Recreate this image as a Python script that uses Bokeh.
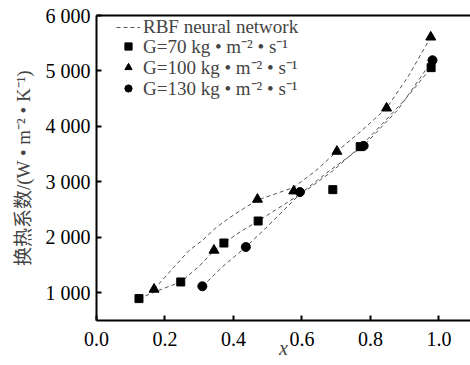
from bokeh.plotting import figure
from bokeh.models import Legend, LegendItem, FixedTicker, LinearAxis
from bokeh.embed import file_html
from bokeh.resources import INLINE

# ---- data ----
x70 = [0.124, 0.246, 0.372, 0.472, 0.690, 0.770, 0.977]
y70 = [895, 1195, 1897, 2294, 2860, 3635, 5060]
x100 = [0.168, 0.343, 0.470, 0.576, 0.702, 0.847, 0.976]
y100 = [1063, 1766, 2685, 2835, 3550, 4330, 5610]
x130 = [0.309, 0.436, 0.594, 0.780, 0.981]
y130 = [1117, 1825, 2816, 3650, 5193]

# RBF network curves
cx70 = [0.124, 0.18, 0.246, 0.30, 0.343, 0.372, 0.42, 0.472, 0.55, 0.62, 0.69, 0.77, 0.84, 0.91, 0.977]
cy70 = [895, 1040, 1195, 1480, 1760, 1897, 2100, 2294, 2600, 2880, 3200, 3635, 4080, 4550, 5060]
cx100 = [0.168, 0.22, 0.27, 0.31, 0.35, 0.39, 0.43, 0.47, 0.52, 0.576, 0.64, 0.702, 0.77, 0.847, 0.91, 0.976]
cy100 = [1063, 1420, 1760, 1950, 2180, 2360, 2520, 2670, 2780, 2900, 3200, 3550, 3900, 4330, 4900, 5610]
cx130 = [0.309, 0.37, 0.436, 0.50, 0.594, 0.68, 0.780, 0.88, 0.981]
cy130 = [1117, 1480, 1825, 2200, 2780, 3200, 3650, 4300, 5193]

x_ticks = [0.0, 0.2, 0.4, 0.6, 0.8, 1.0]
x_tick_labels = ["0.0", "0.2", "0.4", "0.6", "0.8", "1.0"]
y_ticks = [1000, 2000, 3000, 4000, 5000, 6000]
y_tick_labels = ["1 000", "2 000", "3 000", "4 000", "5 000", "6 000"]

legend_labels = ["RBF neural network",
                 "G=70 kg • m⁻² • s⁻¹",
                 "G=100 kg • m⁻² • s⁻¹",
                 "G=130 kg • m⁻² • s⁻¹"]

SERIF = "'Liberation Serif', 'Times New Roman', serif"
MIXED = "'Liberation Serif', 'Noto Sans CJK SC', serif"

p = figure(width=470, height=365, output_backend="svg", toolbar_location=None,
           x_range=(0, 1.092), y_range=(500, 6000),
           min_border_left=96, min_border_right=0, min_border_top=15, min_border_bottom=45)
p.grid.visible = False
p.outline_line_color = None
p.background_fill_color = "white"
p.border_fill_color = "white"

dash = "4 3"
lc = "#555555"
l1 = p.line(cx70, cy70, line_dash=dash, line_color=lc, line_width=1)
p.line(cx100, cy100, line_dash=dash, line_color=lc, line_width=1)
p.line(cx130, cy130, line_dash=dash, line_color=lc, line_width=1)

s1 = p.scatter(x70, y70, marker="square", size=8, color="black")
s2 = p.scatter(x100, y100, marker="triangle", size=10, color="black")
s3 = p.scatter(x130, y130, marker="circle", size=9, color="black")

# top frame line
top = LinearAxis(major_tick_line_color=None, minor_tick_line_color=None,
                 major_label_text_font_size="0px", axis_line_width=2,
                 axis_line_color="black")
top.ticker = FixedTicker(ticks=[])
p.add_layout(top, "above")

xax = p.below[0]
yax = p.left[0]
for ax in (xax, yax):
    ax.axis_line_width = 2
    ax.axis_line_color = "black"
    ax.major_tick_in = 5
    ax.major_tick_out = 0
    ax.minor_tick_line_color = None
    ax.major_tick_line_width = 2
    ax.major_label_text_font = SERIF
    ax.major_label_text_font_size = "20px"
    ax.major_label_text_color = "black"

xax.ticker = FixedTicker(ticks=x_ticks)
xax.major_label_overrides = dict(zip(x_ticks, x_tick_labels))
yax.ticker = FixedTicker(ticks=y_ticks)
yax.major_label_overrides = dict(zip(y_ticks, y_tick_labels))
xax.major_label_standoff = 11
yax.major_label_standoff = 6

xax.axis_label = "x"
xax.axis_label_text_font = SERIF
xax.axis_label_text_font_style = "italic"
xax.axis_label_text_font_size = "20px"
xax.axis_label_standoff = -12

yax.axis_label = "换热系数/(W • m⁻² • K⁻¹)"
yax.axis_label_text_font = MIXED
yax.axis_label_text_font_style = "normal"
yax.axis_label_text_font_size = "19px"
yax.axis_label_standoff = 9

renderers = [l1, s1, s2, s3]
row_bottoms = [282, 261, 240, 219]
for lab, r, yb in zip(legend_labels, renderers, row_bottoms):
    lg = Legend(items=[LegendItem(label=lab, renderers=[r])], location=(20, yb))
    lg.label_text_font = SERIF
    lg.label_text_font_size = "19px"
    lg.background_fill_alpha = 0
    lg.border_line_color = None
    lg.padding = 0
    lg.margin = 0
    lg.spacing = 0
    lg.glyph_width = 24
    lg.glyph_height = 18
    lg.label_height = 18
    lg.label_standoff = 3
    p.add_layout(lg)

open("out.html", "w").write(file_html(p, INLINE))
